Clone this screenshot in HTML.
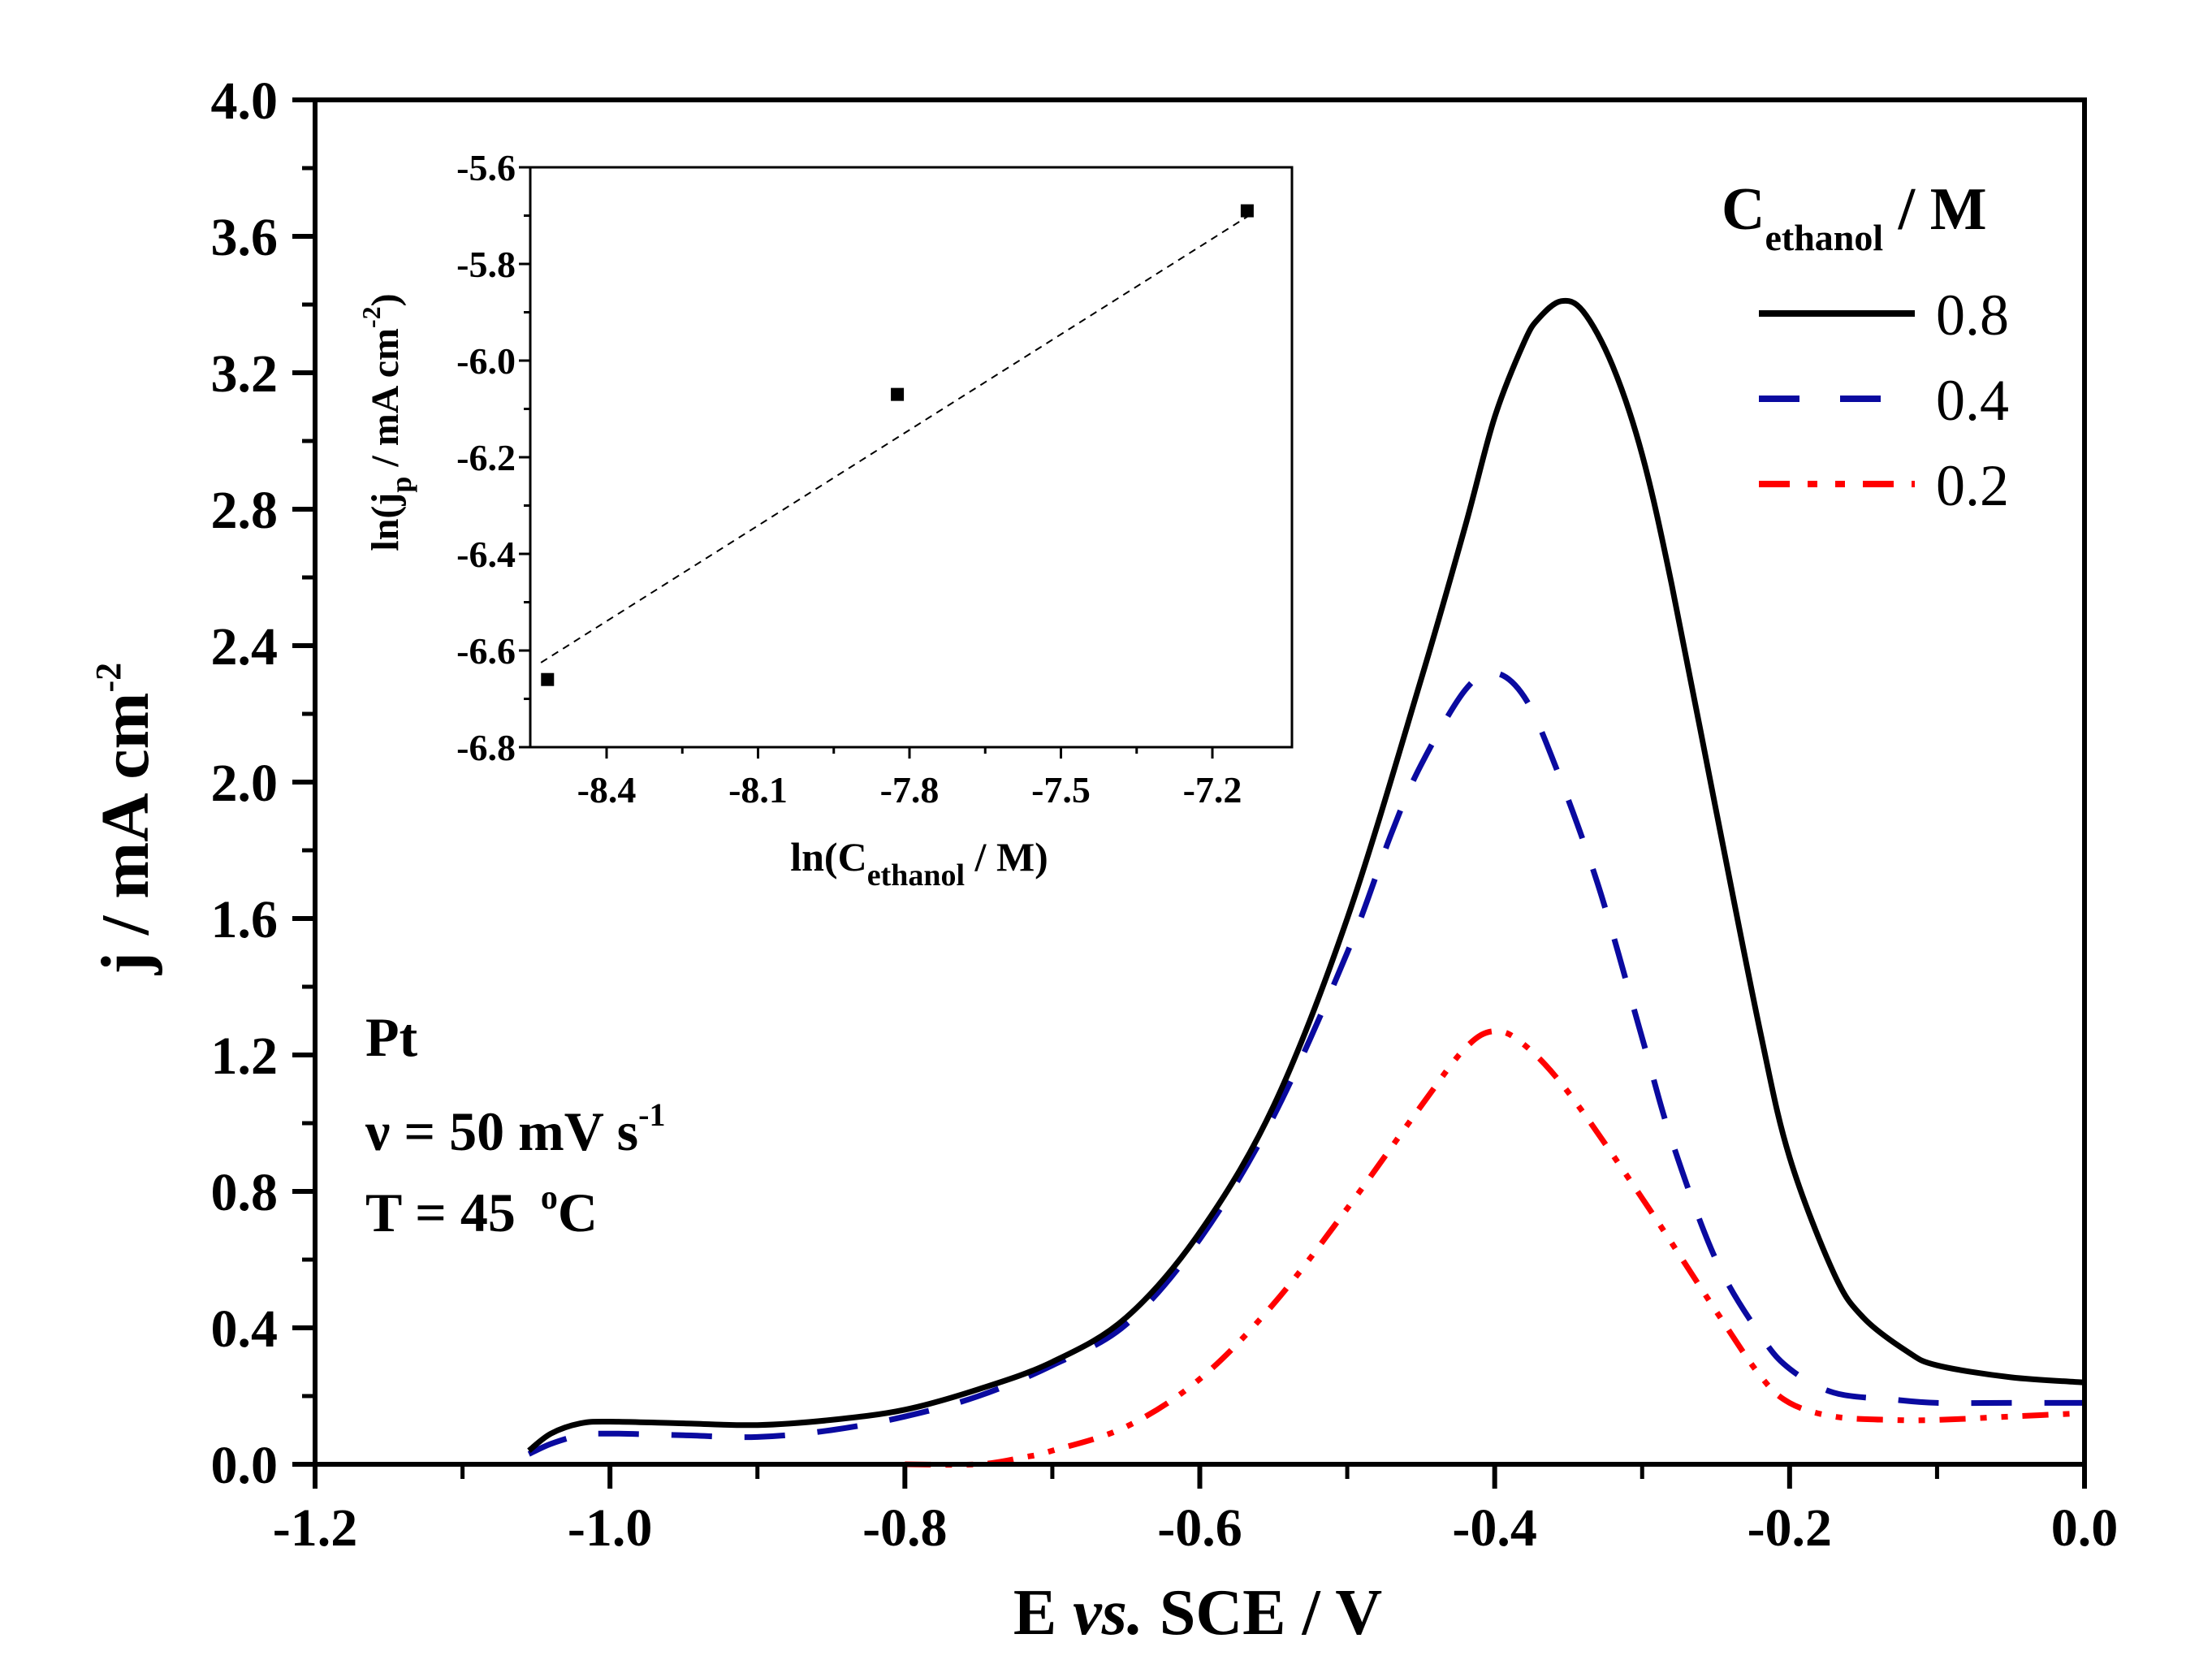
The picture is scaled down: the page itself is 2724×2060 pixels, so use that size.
<!DOCTYPE html>
<html><head><meta charset="utf-8"><style>
html,body{margin:0;padding:0;background:#fff;}
svg{display:block;}
text{font-family:"Liberation Serif","DejaVu Serif",serif;}
</style></head><body>
<svg id="chart" width="2724" height="2060" viewBox="0 0 2724 2060" xmlns="http://www.w3.org/2000/svg">
<g id="main"></g>
<g id="inset"></g>
</svg>
<script>
// Main chart data
const xTicks = [-1.2,-1.0,-0.8,-0.6,-0.4,-0.2,0.0];
const yTicks = [0.0,0.4,0.8,1.2,1.6,2.0,2.4,2.8,3.2,3.6,4.0];
const e08 = [-1.055,-1.04,-1.02,-1.0,-0.95,-0.9,-0.85,-0.8,-0.75,-0.7,-0.65,-0.6,-0.55,-0.5,-0.45,-0.42,-0.4,-0.38,-0.37,-0.355,-0.34,-0.32,-0.3,-0.28,-0.25,-0.22,-0.2,-0.17,-0.15,-0.12,-0.1,-0.05,0.0];
const j08 = [0.04,0.09,0.12,0.125,0.12,0.115,0.13,0.16,0.22,0.3,0.43,0.68,1.05,1.6,2.3,2.75,3.07,3.29,3.36,3.41,3.38,3.22,2.96,2.58,1.92,1.27,0.9,0.56,0.43,0.33,0.29,0.255,0.24];
const e04 = [-1.055,-1.04,-1.02,-1.0,-0.95,-0.9,-0.85,-0.8,-0.75,-0.7,-0.65,-0.6,-0.55,-0.5,-0.47,-0.45,-0.42,-0.4,-0.38,-0.36,-0.33,-0.3,-0.28,-0.25,-0.22,-0.2,-0.17,-0.13,-0.1,-0.05,0.0];
const j04 = [0.03,0.06,0.085,0.09,0.085,0.08,0.1,0.14,0.2,0.29,0.41,0.66,1.02,1.5,1.85,2.05,2.27,2.32,2.25,2.06,1.7,1.25,0.95,0.6,0.38,0.28,0.21,0.19,0.18,0.18,0.18];
const e02 = [-0.8,-0.75,-0.72,-0.7,-0.65,-0.6,-0.55,-0.5,-0.45,-0.42,-0.4,-0.38,-0.35,-0.3,-0.25,-0.22,-0.2,-0.17,-0.13,-0.1,-0.05,0.0];
const j02 = [0.0,0.0,0.02,0.04,0.11,0.25,0.47,0.75,1.05,1.22,1.27,1.23,1.09,0.78,0.45,0.26,0.18,0.14,0.13,0.13,0.14,0.15];
// Inset data
const insetXTicks = [-8.4,-8.1,-7.8,-7.5,-7.2];
const insetYTicks = [-5.6,-5.8,-6.0,-6.2,-6.4,-6.6,-6.8];
const lnC = [-8.517,-7.824,-7.131];
const lnJ = [-6.66,-6.07,-5.69];
const fitX = [-8.53,-7.12];
const fitY = [-6.625,-5.695];

const NS="http://www.w3.org/2000/svg";
function mk(parent,tag,attrs,txt){const e=document.createElementNS(NS,tag);for(const k in attrs)e.setAttribute(k,attrs[k]);if(txt!==undefined)e.textContent=txt;parent.appendChild(e);return e;}

const L=388,R=2567,T=123,B=1803;
const X=v=>L+(v+1.2)/1.2*(R-L);
const Y=v=>B-v/4.0*(B-T);
const main=document.getElementById('main');

function smoothPath(xs,ys,fx,fy){
  const p=xs.map((x,i)=>[fx(x),fy(ys[i])]);
  let d=`M${p[0][0]},${p[0][1]}`;
  for(let i=0;i<p.length-1;i++){
    const p0=p[Math.max(0,i-1)],p1=p[i],p2=p[i+1],p3=p[Math.min(p.length-1,i+2)];
    const c1=[p1[0]+(p2[0]-p0[0])/6,p1[1]+(p2[1]-p0[1])/6];
    const c2=[p2[0]-(p3[0]-p1[0])/6,p2[1]-(p3[1]-p1[1])/6];
    d+=` C${c1[0]},${c1[1]} ${c2[0]},${c2[1]} ${p2[0]},${p2[1]}`;
  }
  return d;
}

let s=mk(main,'path',{d:smoothPath(e02,j02,X,Y),fill:'none',stroke:'#ff0000','stroke-width':7,'stroke-dasharray':'32 18 8 18 8 18'});


s=mk(main,'path',{d:smoothPath(e04,j04,X,Y),fill:'none',stroke:'#0a0aa0','stroke-width':7,'stroke-dasharray':'50 40'});


s=mk(main,'path',{d:smoothPath(e08,j08,X,Y),fill:'none',stroke:'#000','stroke-width':7});



let f=mk(main,'rect',{x:L,y:T,width:R-L,height:B-T,fill:'none',stroke:'#000','stroke-width':6});



xTicks.forEach(v=>{
  const t=mk(main,'line',{x1:X(v),x2:X(v),y1:B,y2:B+30,stroke:'#000','stroke-width':6});
  
  
  const lb=mk(main,'text',{x:X(v),y:B+100,'text-anchor':'middle','font-size':66,'font-weight':'bold'},v.toFixed(1));
  
  
});
for(let i=0;i<6;i++){const v=-1.1+0.2*i;
  const t=mk(main,'line',{x1:X(v),x2:X(v),y1:B,y2:B+18,stroke:'#000','stroke-width':5});
  
  }
yTicks.forEach(v=>{
  const t=mk(main,'line',{x1:L-28,x2:L,y1:Y(v),y2:Y(v),stroke:'#000','stroke-width':6});
  
  
  const lb=mk(main,'text',{x:L-46,y:Y(v)+23,'text-anchor':'end','font-size':66,'font-weight':'bold'},v.toFixed(1));
  
  
});
for(let i=0;i<10;i++){const v=0.2+0.4*i;
  const t=mk(main,'line',{x1:L-16,x2:L,y1:Y(v),y2:Y(v),stroke:'#000','stroke-width':5});
  
  }

let xt=mk(main,'text',{x:1475,y:2012,'text-anchor':'middle','font-size':80,'font-weight':'bold'});


xt.innerHTML='E <tspan font-style="italic">vs.</tspan> SCE / V';
let yt=mk(main,'text',{transform:'translate(182,1008) rotate(-90)','text-anchor':'middle','font-size':84,'font-weight':'bold'});


yt.innerHTML='j / mA cm<tspan dy="-34" font-size="44">-2</tspan>';

let a=mk(main,'text',{x:450,y:1300,'font-size':68,'font-weight':'bold'},'Pt');


a=mk(main,'text',{x:450,y:1416,'font-size':68,'font-weight':'bold'});


a.innerHTML='ν  = 50 mV s<tspan dy="-30" font-size="40">-1</tspan>';
a=mk(main,'text',{x:450,y:1516,'font-size':68,'font-weight':'bold'});


a.innerHTML='T = 45 <tspan dx="14" dy="-28" font-size="42">o</tspan><tspan dy="28">C</tspan>';

let lt=mk(main,'text',{x:2120,y:282,'font-size':74,'font-weight':'bold'});


lt.innerHTML='C<tspan dy="26" font-size="46">ethanol</tspan><tspan dy="-26"> / M</tspan>';
const legSeries=[['0.8','#000','none',386],['0.4','#0a0aa0','50 50',491],['0.2','#ff0000','38 22 12 22 12 22',596]];
legSeries.forEach(([lab,c,da,y])=>{
  const g=mk(main,'g',{});
  
  
  mk(g,'line',{x1:2166,x2:2358,y1:y,y2:y,stroke:c,'stroke-width':8,'stroke-dasharray':da});
  mk(g,'text',{x:2384,y:y+26,'font-size':72},lab);
});

const inset=document.getElementById('inset');
const iL=653,iR=1591,iT=206,iB=920;
const IX=v=>747+(v+8.4)/0.3*186.5;
const IY=v=>iT+(-5.6-v)/1.2*(iB-iT);
let fl=mk(inset,'line',{x1:IX(fitX[0]),y1:IY(fitY[0]),x2:IX(fitX[1]),y2:IY(fitY[1]),stroke:'#000','stroke-width':2,'stroke-dasharray':'9 7'});


lnC.forEach((v,i)=>{
  const r=mk(inset,'rect',{x:IX(v)-8,y:IY(lnJ[i])-8,width:16,height:16,fill:'#000'});
  
  
});
let ifr=mk(inset,'rect',{x:iL,y:iT,width:iR-iL,height:iB-iT,fill:'none',stroke:'#000','stroke-width':3});


insetXTicks.forEach(v=>{
  const t=mk(inset,'line',{x1:IX(v),x2:IX(v),y1:iB,y2:iB+14,stroke:'#000','stroke-width':3});
  
  
  const lb=mk(inset,'text',{x:IX(v),y:iB+68,'text-anchor':'middle','font-size':46,'font-weight':'bold'},v.toFixed(1));
  
  
});
for(let i=0;i<4;i++){const v=-8.25+0.3*i;
  const t=mk(inset,'line',{x1:IX(v),x2:IX(v),y1:iB,y2:iB+8,stroke:'#000','stroke-width':3});
  
  }
insetYTicks.forEach(v=>{
  const t=mk(inset,'line',{x1:iL-14,x2:iL,y1:IY(v),y2:IY(v),stroke:'#000','stroke-width':3});
  
  
  const lb=mk(inset,'text',{x:iL-18,y:IY(v)+16,'text-anchor':'end','font-size':46,'font-weight':'bold'},v.toFixed(1));
  
  
});
for(let i=0;i<6;i++){const v=-5.7-0.2*i;
  const t=mk(inset,'line',{x1:iL-8,x2:iL,y1:IY(v),y2:IY(v),stroke:'#000','stroke-width':3});
  
  }
let ixt=mk(inset,'text',{x:1132,y:1072,'text-anchor':'middle','font-size':50,'font-weight':'bold'});


ixt.innerHTML='ln(C<tspan dy="18" font-size="38">ethanol</tspan><tspan dy="-18"> / M)</tspan>';
let iyt=mk(inset,'text',{transform:'translate(490,520) rotate(-90)','text-anchor':'middle','font-size':48,'font-weight':'bold'});


iyt.innerHTML='ln(j<tspan dy="16" font-size="36">p</tspan><tspan dy="-16"> / mA cm</tspan><tspan dy="-22" font-size="32">-2</tspan><tspan dy="22">)</tspan>';
</script>
</body></html>
